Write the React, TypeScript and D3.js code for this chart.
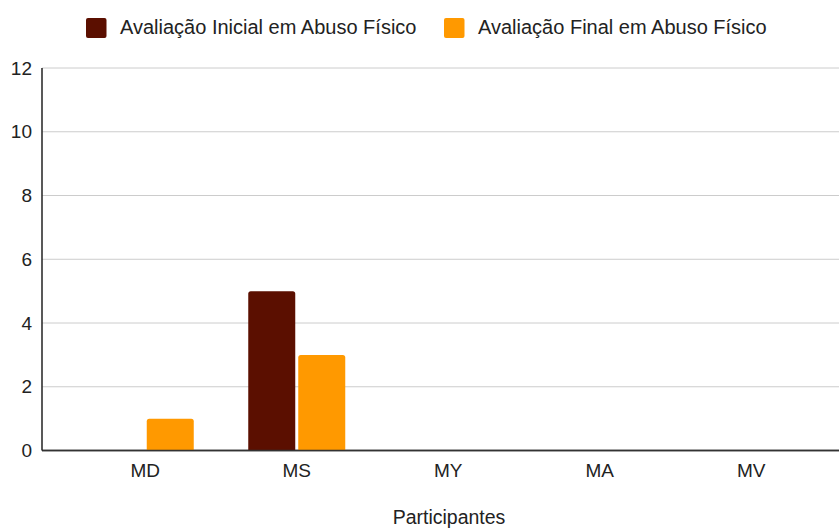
import React from "react";
import * as d3 from "d3";

const categories = ["MD", "MS", "MY", "MA", "MV"];
const seriesNames = ["Avaliação Inicial em Abuso Físico", "Avaliação Final em Abuso Físico"];
const initialValues = [0, 5, 0, 0, 0];
const finalValues = [1, 3, 0, 0, 0];
const yTicks = [0, 2, 4, 6, 8, 10, 12];
const colors = ["#5b0f00", "#ff9900"];
const xTitle = "Participantes";

const W = 839;
const H = 529;
const plotLeft = 42;
const plotRight = 839;

function topRoundedRect(x: number, y: number, w: number, h: number, r: number) {
  if (h <= 0) return "";
  const rr = Math.min(r, h, w / 2);
  return `M${x},${y + h} L${x},${y + rr} Q${x},${y} ${x + rr},${y} L${x + w - rr},${y} Q${x + w},${y} ${x + w},${y + rr} L${x + w},${y + h} Z`;
}

export default function App() {
  const y = d3.scaleLinear().domain([0, 12]).range([450.5, 68]);
  const x = d3.scaleBand<string>().domain(categories).range([69.5, 827]).paddingInner(0).paddingOuter(0);
  const barW = 47;
  const gap = 3;
  const series = [initialValues, finalValues];
  const font = "'Liberation Sans', Arial, sans-serif";

  return (
    <svg width={W} height={H} style={{ position: "absolute", left: 0, top: 0, background: "#fff" }} fontFamily={font}>
      {yTicks.map((t) => (
        <line key={"g" + t} x1={plotLeft} x2={plotRight} y1={y(t)} y2={y(t)} stroke={t === 0 ? "#333" : "#cccccc"} strokeWidth={t === 0 ? 1.5 : 1} />
      ))}
      {yTicks.map((t) => (
        <text key={"yt" + t} x={32} y={y(t) + 6.7} textAnchor="end" fontSize={19} fill="#222">
          {t}
        </text>
      ))}
      {categories.map((c, i) => {
        const center = (x(c) as number) + x.bandwidth() / 2;
        return series.map((s, j) => {
          const v = s[i];
          const bx = j === 0 ? center - gap / 2 - barW : center + gap / 2;
          const top = y(v);
          const h = y(0) - top;
          return <path key={c + j} d={topRoundedRect(bx, top, barW, h, 2.5)} fill={colors[j]} />;
        });
      })}
      <line x1={plotLeft} x2={plotRight} y1={y(0)} y2={y(0)} stroke="#333" strokeWidth={1.5} />
      <line x1={plotLeft} x2={plotLeft} y1={y(12)} y2={y(0)} stroke="#222" strokeWidth={1.5} />
      {categories.map((c) => (
        <text key={"xt" + c} x={(x(c) as number) + x.bandwidth() / 2} y={476.7} textAnchor="middle" fontSize={19} fill="#222">
          {c}
        </text>
      ))}
      <text x={449} y={524} textAnchor="middle" fontSize={19.5} fill="#222">
        {xTitle}
      </text>
      {seriesNames.map((n, j) => {
        const lx = j === 0 ? 86 : 444;
        return (
          <g key={"lg" + j}>
            <rect x={lx} y={18} width={20.5} height={20} rx={2} fill={colors[j]} />
            <text x={lx + 34} y={33.5} fontSize={20} fill="#222">
              {n}
            </text>
          </g>
        );
      })}
    </svg>
  );
}
